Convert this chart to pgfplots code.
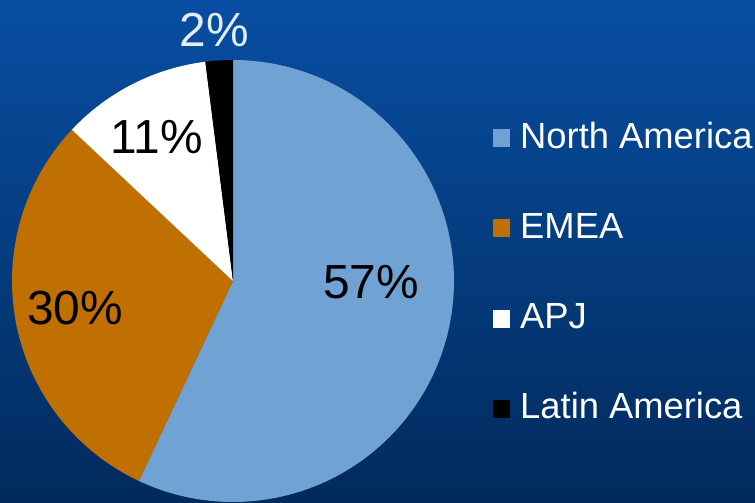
\documentclass[border=0pt]{standalone}
\usepackage{pgfplots}
\pgfplotsset{compat=1.18}
\usepackage{pgfplotstable}
\usepackage{fontspec}
\setmainfont{Liberation Sans}
\definecolor{bgtop}{RGB}{8,78,162}
\definecolor{bgbot}{RGB}{2,42,92}
\definecolor{na}{RGB}{112,162,212}
\definecolor{emea}{RGB}{192,112,0}
\definecolor{lbl}{RGB}{228,238,250}

\pgfplotstableread{
region share
NA 57
EMEA 30
APJ 11
LA 2
}\shares

\begin{document}
\begin{tikzpicture}
\pgfplotstablegetelem{0}{share}\of\shares \let\vNA\pgfplotsretval
\pgfplotstablegetelem{1}{share}\of\shares \let\vEM\pgfplotsretval
\pgfplotstablegetelem{2}{share}\of\shares \let\vAP\pgfplotsretval
\pgfplotstablegetelem{3}{share}\of\shares \let\vLA\pgfplotsretval
\pgfmathsetmacro\aZero{90}
\pgfmathsetmacro\aOne{\aZero-3.6*\vNA}
\pgfmathsetmacro\aTwo{\aOne-3.6*\vEM}
\pgfmathsetmacro\aThree{\aTwo-3.6*\vAP}
\pgfmathsetmacro\aFour{\aThree-3.6*\vLA}
\begin{axis}[
  width=755bp, height=503bp, scale only axis,
  xmin=0, xmax=755, ymin=0, ymax=503,
  axis lines=none,
  clip=true,
  samples=120,
  legend image code/.code={\fill[#1] (0bp,-12bp) rectangle (17bp,6bp); \path (27bp,0bp);},
  legend cell align=left,
  legend style={at={(axis cs:493,232.5)}, anchor=west, draw=none, fill=none,
    text=white, font=\fontsize{36.5}{40}\selectfont,
    inner sep=0pt,
    nodes={inner sep=0pt, text height=26bp, text depth=0bp},
    row sep=64.3bp},
]
\fill[top color=bgtop, bottom color=bgbot] (axis cs:0,0) rectangle (axis cs:755,503);

\addplot[draw=none, fill=na, domain=\aOne:\aZero] ({233+221*cos(x)},{222+221*sin(x)}) -- (233,222) -- cycle;
\addlegendentry{North America}
\addplot[draw=none, fill=emea, domain=\aTwo:\aOne] ({233+221*cos(x)},{222+221*sin(x)}) -- (233,222) -- cycle;
\addlegendentry{EMEA}
\addplot[draw=none, fill=white, domain=\aThree:\aTwo] ({233+221*cos(x)},{222+221*sin(x)}) -- (233,222) -- cycle;
\addlegendentry{APJ}
\addplot[draw=none, fill=black, domain=\aFour:\aThree, samples=20] ({233+221*cos(x)},{222+221*sin(x)}) -- (233,222) -- cycle;
\addlegendentry{Latin America}

\node[font=\fontsize{48}{52}\selectfont, text=black] at (axis cs:371,221) {\vNA\%};
\node[font=\fontsize{48}{52}\selectfont, text=black] at (axis cs:75,195) {\vEM\%};
\node[font=\fontsize{48}{52}\selectfont, text=black] at (axis cs:157,366) {\vAP\%};
\node[font=\fontsize{48}{52}\selectfont, text=lbl] at (axis cs:214,473) {\vLA\%};
\end{axis}
\end{tikzpicture}
\end{document}
